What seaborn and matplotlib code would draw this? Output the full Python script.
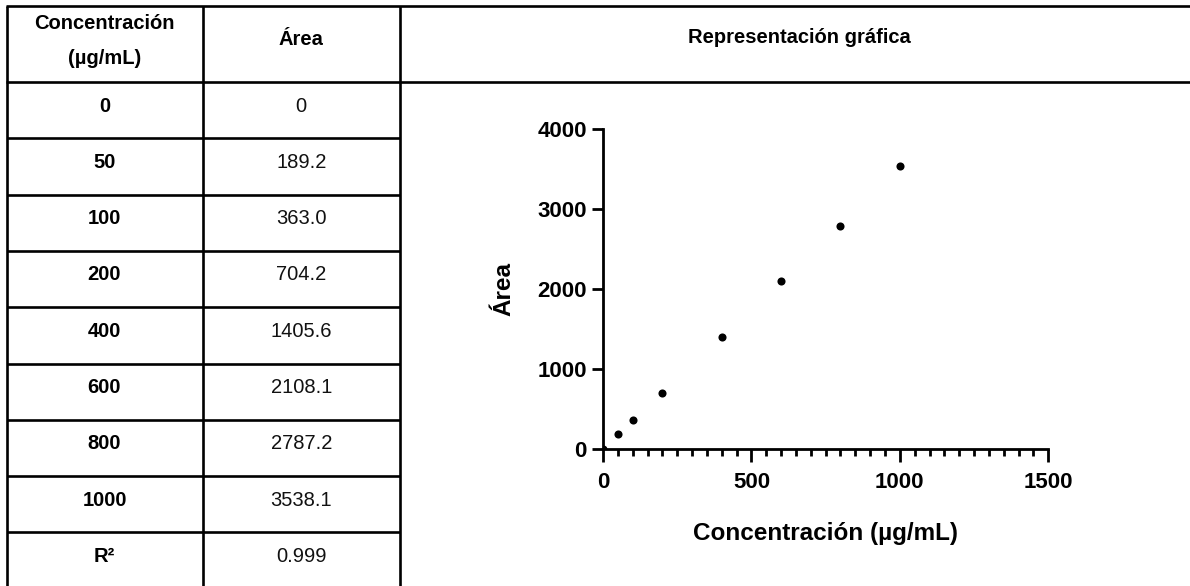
import matplotlib
matplotlib.use("Agg")
import matplotlib.pyplot as plt
from matplotlib.ticker import MultipleLocator, FixedLocator
import pandas as pd
import seaborn as sns

# Calibration data
concentraciones = [0, 50, 100, 200, 400, 600, 800, 1000]
areas = [0, 189.2, 363.0, 704.2, 1405.6, 2108.1, 2787.2, 3538.1]
r2 = 0.999

header_col1 = ["Concentración", "(µg/mL)"]
header_col2 = "Área"
header_col3 = "Representación gráfica"
r2_label = "R²"
x_label = "Concentración (µg/mL)"
y_label = "Área"
x_ticks = [0, 500, 1000, 1500]
y_ticks = [0, 1000, 2000, 3000, 4000]

sns.set_theme(style="ticks")
plt.rcParams["font.family"] = ["Liberation Sans", "DejaVu Sans"]

W, H = 1190, 586
fig = plt.figure(figsize=(W / 100, H / 100), dpi=100)
fig.patch.set_facecolor("white")

# ---- table frame, laid out in pixel units ----
grid = fig.add_axes([0, 0, 1, 1])
grid.set_xlim(0, W)
grid.set_ylim(H, 0)
grid.axis("off")

col_x = [6.5, 202.5, 400]
col_c = [(col_x[0] + col_x[1]) / 2, (col_x[1] + col_x[2]) / 2, 799]
header_top, header_bottom = 6, 82
row_h = 56.3
n_rows = len(concentraciones) + 1
row_tops = [header_bottom + i * row_h for i in range(n_rows)]
lw = 1.9
grid.hlines([header_top, header_bottom], col_x[0] - lw / 2, W, color="black", lw=lw)
grid.hlines(row_tops[1:], col_x[0], col_x[2], color="black", lw=lw)
grid.vlines(col_x, header_top, H, color="black", lw=lw)

fs_table = 14.5
grid.text(col_c[0], 29, header_col1[0], ha="center", va="baseline",
          fontsize=fs_table, fontweight="bold", color="black")
grid.text(col_c[0], 64, header_col1[1], ha="center", va="baseline",
          fontsize=fs_table, fontweight="bold", color="black")
grid.text(col_c[1], 45, header_col2, ha="center", va="baseline",
          fontsize=fs_table, fontweight="bold", color="black")
grid.text(col_c[2], 43, header_col3, ha="center", va="baseline",
          fontsize=fs_table, fontweight="bold", color="black")

for top, c, a in zip(row_tops, concentraciones, areas):
    base = top + 29.5
    grid.text(col_c[0], base, str(c), ha="center", va="baseline",
              fontsize=fs_table, fontweight="bold", color="black")
    grid.text(col_c[1], base, "0" if a == 0 else f"{a:.1f}", ha="center",
              va="baseline", fontsize=fs_table, color="#111111")

base = row_tops[-1] + 29.5
grid.text(col_c[0], base, r2_label, ha="center", va="baseline",
          fontsize=fs_table, fontweight="bold", color="black")
grid.text(col_c[1], base, f"{r2:.3f}", ha="center", va="baseline",
          fontsize=fs_table, color="#111111")

# ---- calibration scatter ----
ax_l, ax_r, ax_t, ax_b = 603, 1048.3, 129.3, 449.3
ax = fig.add_axes([ax_l / W, 1 - ax_b / H, (ax_r - ax_l) / W, (ax_b - ax_t) / H])
ax.set_facecolor("none")

df = pd.DataFrame({"conc": concentraciones, "area": areas})
sns.scatterplot(data=df, x="conc", y="area", ax=ax, color="black", s=34,
                linewidth=0, zorder=2)

ax.set_xlim(0, 1500)
ax.set_ylim(0, 4000)
sns.despine(ax=ax)
for side in ("left", "bottom"):
    ax.spines[side].set_linewidth(2.0)
    ax.spines[side].set_color("black")
    ax.spines[side].set_zorder(3)

ax.xaxis.set_major_locator(FixedLocator(x_ticks))
ax.xaxis.set_minor_locator(MultipleLocator(50))
ax.yaxis.set_major_locator(FixedLocator(y_ticks))
ax.set_xticklabels([str(t) for t in x_ticks])
ax.set_yticklabels([str(t) for t in y_ticks])

ax.tick_params(axis="x", which="major", length=9.6, width=2.0, pad=7,
               labelsize=16, colors="black", direction="out")
ax.tick_params(axis="x", which="minor", length=5.3, width=2.0, colors="black",
               direction="out")
ax.tick_params(axis="y", which="major", length=7.7, width=2.0, pad=4,
               labelsize=16, colors="black", direction="out")
for lab in ax.get_xticklabels() + ax.get_yticklabels():
    lab.set_fontweight("bold")

ax.set_xlabel(x_label, fontsize=17.5, fontweight="bold", color="black",
              va="baseline")
ax.xaxis.set_label_coords(0.5, -(540 - ax_b) / (ax_b - ax_t))
ax.set_ylabel(y_label, fontsize=17.5, fontweight="bold", color="black",
              va="baseline")
ax.yaxis.set_label_coords((510 - ax_l) / (ax_r - ax_l), 0.5)

fig.savefig("out.png", dpi=100, facecolor="white")
